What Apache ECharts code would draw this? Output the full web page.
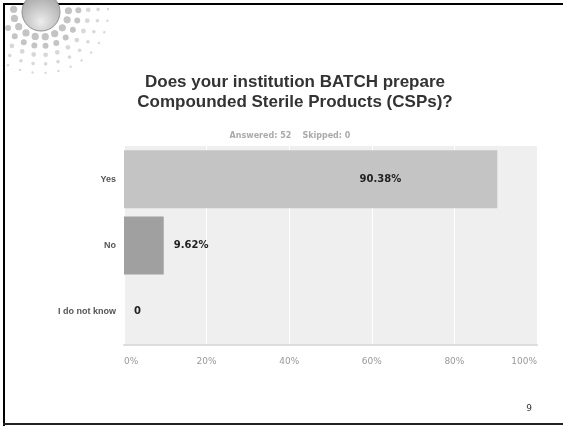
<!DOCTYPE html>
<html>
<head>
<meta charset="utf-8">
<script src="https://cdn.jsdelivr.net/npm/echarts@6/dist/echarts.min.js"></script>
<style>
  html, body { margin: 0; padding: 0; background: #fff; }
  #chart { width: 563px; height: 426px; }
</style>
</head>
<body>
<div id="chart"></div>
<script>
// survey answers
const categories = ['Yes', 'No', 'I do not know'];
const percents = [90.38, 9.62, 0];
const barColors = ['#c4c4c4', '#a0a0a0', '#a0a0a0'];
const tickValues = [0, 20, 40, 60, 80, 100];

const chart = echarts.init(document.getElementById('chart'));

// dotted sun logo in the corner (decoration only)
const logo = [];
for (let ring = 0; ring < 5; ring++) {
  const r = 25 + ring * 9;
  const n = 10 + ring * 2;
  for (let i = 0; i < n; i++) {
    const a = (i / (n - 1)) * Math.PI * 1.05 - 0.05;
    const x = 41 + Math.cos(a) * r * 1.1;
    const y = 12 + Math.sin(a) * r;
    if (x < 7 || y < 7) continue;
    logo.push({
      type: 'circle',
      shape: { cx: x, cy: y, r: Math.max(0.8, 3.6 - ring * 0.6) },
      style: { fill: ring < 2 ? '#c4c4c4' : '#d8d8d8' },
      silent: true
    });
  }
}
logo.push({
  type: 'circle',
  shape: { cx: 41, cy: 12, r: 19 },
  style: {
    fill: new echarts.graphic.RadialGradient(0.5, 0.75, 0.7, [
      { offset: 0, color: '#ececec' },
      { offset: 1, color: '#a8a8a8' }
    ]),
    stroke: '#909090'
  },
  silent: true
});

chart.setOption({
  animation: false,
  title: [
    {
      text: 'Does your institution BATCH prepare\nCompounded Sterile Products (CSPs)?',
      left: 290,
      top: 67,
      textAlign: 'center',
      textStyle: {
        fontFamily: 'Liberation Sans, Arial, sans-serif',
        fontSize: 17,
        fontWeight: 'bold',
        color: '#333',
        lineHeight: 20
      }
    },
    {
      text: 'Answered: 52    Skipped: 0',
      left: 285,
      top: 127,
      textAlign: 'center',
      textStyle: {
        fontFamily: 'DejaVu Sans, sans-serif',
        fontSize: 8,
        fontWeight: 'bold',
        color: '#aaa'
      }
    }
  ],
  graphic: [
    // slide frame: top, left, bottom
    { type: 'rect', shape: { x: 3, y: 3, width: 560, height: 2 }, style: { fill: '#000' }, silent: true },
    { type: 'rect', shape: { x: 3, y: 3, width: 2, height: 423 }, style: { fill: '#000' }, silent: true },
    { type: 'rect', shape: { x: 3, y: 423, width: 560, height: 2 }, style: { fill: '#222' }, silent: true },
    {
      type: 'text', x: 529, y: 409,
      style: { text: '9', fontSize: 9, fontFamily: 'DejaVu Sans, sans-serif', fill: '#333', align: 'center', verticalAlign: 'middle' },
      silent: true
    }
  ].concat(logo),
  grid: {
    left: 124,
    right: 26,
    top: 146,
    bottom: 81,
    show: true,
    backgroundColor: '#efefef',
    borderWidth: 0
  },
  xAxis: {
    type: 'value',
    min: tickValues[0],
    max: tickValues[tickValues.length - 1],
    interval: 20,
    axisLine: { show: true, lineStyle: { color: '#dcdcdc', width: 2 } },
    axisTick: { show: false },
    splitLine: { show: true, lineStyle: { color: '#ffffff', width: 1 } },
    axisLabel: {
      formatter: '{value}%',
      color: '#999',
      fontSize: 9,
      fontFamily: 'DejaVu Sans, sans-serif',
      margin: 12,
      alignMinLabel: 'left',
      alignMaxLabel: 'right'
    }
  },
  yAxis: {
    type: 'category',
    data: categories,
    inverse: true,
    axisLine: { show: false },
    axisTick: { show: false },
    splitLine: { show: false },
    axisLabel: {
      color: '#555',
      fontSize: 9,
      fontWeight: 'bold',
      fontFamily: 'Liberation Sans, Arial, sans-serif',
      margin: 8
    }
  },
  series: [{
    type: 'bar',
    barCategoryGap: '12.5%',
    data: percents.map((v, i) => ({
      value: v,
      itemStyle: { color: barColors[i] },
      label: i === 0
        ? { position: 'insideRight', distance: 96 }
        : { position: 'right', distance: 10 }
    })),
    label: {
      show: true,
      color: '#222',
      fontSize: 10,
      fontWeight: 'bold',
      fontFamily: 'DejaVu Sans, sans-serif',
      formatter: p => (p.value === 0 ? '0' : p.value.toFixed(2) + '%')
    }
  }]
});
</script>
</body>
</html>
